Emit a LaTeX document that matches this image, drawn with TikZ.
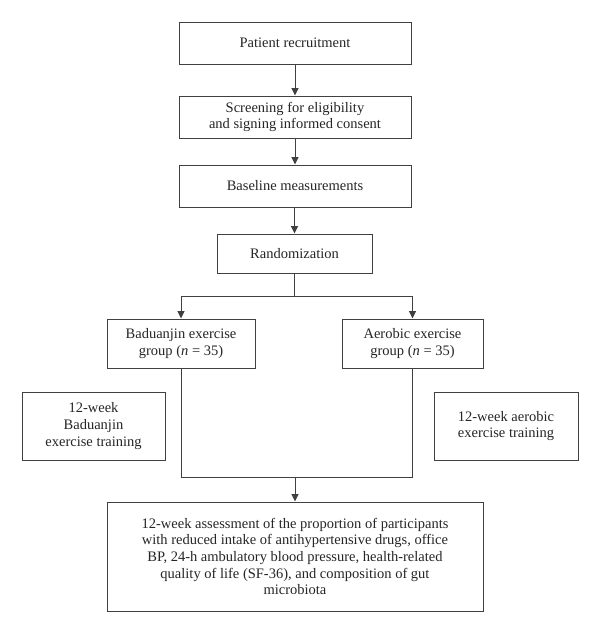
\documentclass[tikz,border=0pt]{standalone}
\usepackage{fontspec}
\setmainfont{Liberation Serif}
\usetikzlibrary{arrows.meta}
\begin{document}
\begin{tikzpicture}[x=1pt,y=1pt,
  box/.style={draw=black!75, line width=1pt, align=center, inner sep=2pt,
    font=\fontsize{14.5}{16.7}\selectfont, text=black!85},
  conn/.style={draw=black!75, line width=1pt},
  arr/.style={conn, -{Triangle[length=7.5pt,width=7pt]}}]
\useasboundingbox (0,0) rectangle (600,-633);
\fill[white] (0,0) rectangle (600,-633);
\node[box, minimum width=232pt, minimum height=42pt] (a) at (295,-43) {Patient recruitment};
\node[box, minimum width=232pt, minimum height=42pt] (b) at (295,-117) {Screening for eligibility\\and signing informed consent};
\node[box, minimum width=232pt, minimum height=42pt] (c) at (295,-186) {Baseline measurements};
\node[box, minimum width=155pt, minimum height=39pt] (d) at (294.5,-253.5) {Randomization};
\node[box, minimum width=148pt, minimum height=49pt] (bad) at (181,-343.5) {Baduanjin exercise\\group (\textit{n} = 35)};
\node[box, minimum width=141pt, minimum height=49pt] (aer) at (412.5,-343.5) {Aerobic exercise\\group (\textit{n} = 35)};
\node[box, minimum width=143pt, minimum height=68pt] (lt) at (93.5,-426) {12-week\\Baduanjin\\exercise training};
\node[box, minimum width=144pt, minimum height=68pt] (rt) at (506,-426) {12-week aerobic\\exercise training};
\node[box, minimum width=376pt, minimum height=109pt] (out) at (295,-556.5) {12-week assessment of the proportion of participants\\with reduced intake of antihypertensive drugs, office\\BP, 24-h ambulatory blood pressure, health-related\\quality of life (SF-36), and composition of gut\\microbiota};
\coordinate (br) at (294.5,-296);
\coordinate (jn) at (295,-477);
\draw[arr] (a) -- (b);
\draw[arr] (b) -- (c);
\draw[arr] (c.south -| d.north) -- (d.north);
\draw[conn] (d.south) -- (br);
\draw[arr] (br) -| (bad.north);
\draw[arr] (br) -| (aer.north);
\draw[conn] (bad.south) |- (jn);
\draw[conn] (aer.south) |- (jn);
\draw[arr] (jn) -- (out.north);
\end{tikzpicture}
\end{document}
